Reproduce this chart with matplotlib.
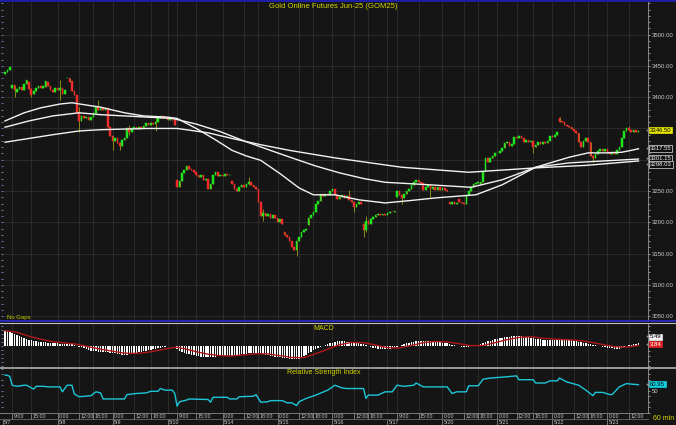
import matplotlib
matplotlib.use("Agg")
import matplotlib.pyplot as plt
from matplotlib.lines import Line2D
from matplotlib.ticker import MultipleLocator, NullFormatter

# ---------------- data ----------------
title = "Gold Online Futures Jun-25 (GOM25)"

opens = [
    3437, 3440, 3444, 3415, 3419, 3408, 3413, 3416, 3411, 3421,
    3425, 3413, 3405, 3410, 3415, 3418, 3414, 3417, 3425, 3418,
    3412, 3409, 3414, 3412, 3414, 3405, 3430, 3431, 3426, 3410,
    3404, 3374, 3362, 3370, 3366, 3369, 3364, 3368, 3375, 3384,
    3380, 3383, 3379, 3383, 3353, 3338, 3330, 3334, 3327, 3322,
    3332, 3335, 3350, 3345, 3350, 3352, 3349, 3353, 3350, 3354,
    3358, 3356, 3359, 3357, 3360, 3367, 3370, 3366, 3368, 3364,
    3367, 3363, 3268, 3257, 3266, 3279, 3284, 3290, 3286, 3283,
    3280, 3276, 3273, 3276, 3268, 3270, 3254, 3262, 3276, 3280,
    3274, 3276, 3274, 3277, 3275, 3266, 3261, 3254, 3250, 3257,
    3259, 3256, 3261, 3265, 3260, 3257, 3254, 3232, 3210, 3215,
    3210, 3213, 3207, 3212, 3207, 3200, 3206, 3184, 3179, 3176,
    3171, 3160, 3156, 3170, 3176, 3185, 3188, 3196, 3207, 3212,
    3216, 3230, 3234, 3245, 3242, 3246, 3243, 3250, 3254, 3243,
    3238, 3241, 3244, 3239, 3242, 3236, 3232, 3225, 3230, 3233,
    3198, 3187, 3202, 3198, 3205, 3209, 3211, 3213, 3211, 3214,
    3212, 3215, 3217, 3216, 3240, 3250, 3243, 3239, 3245, 3250,
    3253, 3260, 3264, 3267, 3265, 3263, 3252, 3256, 3259, 3254,
    3257, 3252, 3256, 3252, 3255, 3252, 3232, 3229, 3232, 3229,
    3237, 3233, 3231, 3229, 3243, 3250, 3256, 3261, 3263, 3262,
    3265, 3282, 3302, 3297, 3303, 3306, 3310, 3311, 3314, 3319,
    3326, 3328, 3322, 3325, 3337, 3334, 3338, 3335, 3329, 3331,
    3328, 3330, 3320, 3323, 3328, 3325, 3329, 3326, 3330, 3338,
    3336, 3340, 3366, 3362, 3361, 3356, 3354, 3352, 3349, 3346,
    3343, 3329, 3321, 3330, 3334, 3328, 3306, 3303, 3309, 3314,
    3317, 3314, 3317, 3312, 3309, 3313, 3309, 3316, 3320, 3334,
    3346, 3351, 3347, 3344, 3347, 3345,
]
closes = [
    3440, 3444, 3448, 3419, 3412, 3413, 3416, 3411, 3421, 3427,
    3413, 3404, 3410, 3415, 3418, 3414, 3418, 3426, 3418, 3412,
    3409, 3414, 3412, 3414, 3405, 3412, 3431, 3424, 3410, 3404,
    3374, 3362, 3370, 3366, 3369, 3364, 3368, 3375, 3384, 3380,
    3383, 3379, 3383, 3353, 3338, 3330, 3334, 3327, 3322, 3332,
    3335, 3350, 3345, 3350, 3352, 3349, 3353, 3350, 3354, 3358,
    3356, 3359, 3357, 3360, 3367, 3370, 3366, 3368, 3364, 3367,
    3363, 3355, 3257, 3266, 3279, 3284, 3290, 3286, 3283, 3280,
    3276, 3273, 3276, 3268, 3270, 3254, 3262, 3276, 3280, 3274,
    3276, 3274, 3277, 3275, 3276, 3261, 3254, 3250, 3257, 3259,
    3256, 3261, 3265, 3260, 3257, 3254, 3232, 3210, 3215, 3210,
    3213, 3207, 3212, 3207, 3200, 3206, 3197, 3179, 3176, 3171,
    3160, 3156, 3170, 3176, 3185, 3188, 3190, 3207, 3212, 3216,
    3230, 3234, 3245, 3242, 3246, 3243, 3250, 3254, 3243, 3238,
    3241, 3244, 3239, 3242, 3236, 3232, 3225, 3230, 3233, 3230,
    3187, 3202, 3198, 3205, 3209, 3211, 3213, 3211, 3214, 3212,
    3215, 3217, 3216, 3218, 3250, 3243, 3239, 3245, 3250, 3253,
    3260, 3264, 3267, 3265, 3263, 3252, 3256, 3259, 3254, 3257,
    3252, 3256, 3252, 3255, 3252, 3250, 3229, 3232, 3229, 3231,
    3233, 3231, 3229, 3243, 3250, 3256, 3261, 3263, 3264, 3265,
    3280, 3302, 3297, 3303, 3306, 3310, 3311, 3314, 3319, 3326,
    3328, 3322, 3325, 3337, 3334, 3338, 3335, 3329, 3331, 3328,
    3330, 3320, 3323, 3328, 3325, 3329, 3326, 3330, 3338, 3336,
    3340, 3344, 3361, 3361, 3356, 3354, 3352, 3349, 3346, 3343,
    3329, 3321, 3330, 3334, 3328, 3306, 3303, 3309, 3314, 3317,
    3314, 3317, 3312, 3309, 3313, 3309, 3316, 3320, 3334, 3346,
    3351, 3347, 3344, 3347, 3345, 3346.5,
]
# visible wicks: bar -> (high, low)
wicks = {4: (3420, 3400), 11: (3414, 3400), 23: (3427, 3395), 31: (3385, 3345),
         39: (3396, 3379), 45: (3339, 3315), 48: (3328, 3315), 52: (3355, 3339),
         63: (3366, 3346), 102: (3272, 3260), 108: (3222, 3202), 122: (3171, 3146),
         144: (3251, 3235), 146: (3233, 3216), 150: (3199, 3176), 151: (3210, 3185),
         166: (3244, 3230), 178: (3262, 3240), 221: (3331, 3310), 232: (3368, 3360),
         246: (3307, 3296), 261: (3354, 3346)}

ma_fast_i = [0, 8, 15, 23, 28, 33, 40, 50, 58, 68, 72, 80, 88, 95, 101, 107, 115,
             123, 129, 138, 148, 159, 170, 180, 197, 208, 222, 236, 244, 252, 258, 262, 265]
ma_fast_v = [3362, 3375, 3383, 3389, 3391, 3388, 3384, 3375, 3370, 3368, 3366, 3350,
             3332, 3315, 3306, 3299, 3278, 3255, 3244, 3244, 3236, 3231, 3235, 3239,
             3244, 3260, 3288, 3304, 3311, 3311, 3312, 3315, 3317.55]
ma_mid_i = [0, 10, 20, 31, 40, 50, 60, 70, 80, 90, 100, 111, 120, 130, 140, 150, 159,
            173, 195, 208, 222, 236, 250, 265]
ma_mid_v = [3352, 3362, 3370, 3375, 3372, 3370, 3368, 3366, 3357, 3345, 3330, 3315,
            3303, 3290, 3279, 3270, 3264, 3261, 3256, 3268, 3288, 3295, 3298, 3301.15]
ma_slow_i = [0, 10, 20, 31, 40, 50, 60, 72, 85, 95, 107, 119, 138, 166, 194, 222, 243, 265]
ma_slow_v = [3328, 3334, 3340, 3346, 3348, 3349, 3350, 3350, 3343, 3334, 3324, 3315,
             3303, 3288, 3280, 3287, 3291, 3298.03]

macd = [
    30, 29, 28, 26, 24, 21, 19, 17, 15, 14,
    12, 11, 10, 9, 8, 8, 7, 7, 6, 5,
    5, 5, 5, 4, 4, 4, 4, 3, 3, 2,
    0, -2, -3, -5, -7, -8, -10, -10, -11, -12,
    -12, -12, -13, -13, -14, -14, -15, -16, -17, -18,
    -18, -18, -17, -16, -15, -14, -13, -12, -11, -10,
    -9, -8, -7, -6, -5, -4, -3, -2, -1, 0,
    0, 0, -6, -10, -12, -14, -16, -17, -18, -19,
    -21, -21, -22, -22, -22, -22, -22, -22, -22, -21,
    -21, -21, -21, -20, -20, -20, -19, -19, -18, -17,
    -16, -16, -15, -15, -15, -15, -15, -15, -17, -18,
    -19, -20, -21, -22, -22, -23, -24, -25, -25, -26,
    -26, -27, -27, -26, -24, -21, -18, -15, -12, -9,
    -7, -5, -3, -1, 1, 3, 5, 6, 8, 9,
    9, 9, 9, 8, 8, 8, 7, 7, 6, 4,
    3, 1, -1, -3, -4, -5, -6, -7, -7, -7,
    -7, -6, -5, -4, -2, 0, 2, 3, 5, 6,
    7, 8, 9, 10, 10, 10, 10, 9, 9, 8,
    8, 7, 7, 6, 6, 5, 4, 2, 1, 0,
    -1, -2, -3, -3, -2, -1, 0, 1, 2, 4,
    6, 8, 9, 10, 12, 13, 14, 15, 16, 17,
    17, 18, 19, 19, 20, 20, 19, 18, 17, 17,
    16, 15, 14, 13, 13, 12, 12, 12, 12, 12,
    12, 12, 13, 12, 12, 11, 11, 11, 10, 9,
    8, 7, 6, 5, 4, 3, 2, 1, 0, -1,
    -2, -3, -4, -5, -5, -6, -6, -6, -5, -3,
    -1, 1, 2, 3, 4, 5.49,
]
sig_i = [0, 5, 10, 15, 20, 25, 30, 35, 40, 45, 50, 55, 60, 65, 70, 72, 75, 80, 85,
         90, 95, 100, 105, 110, 115, 120, 125, 130, 135, 140, 145, 150, 155, 160,
         165, 170, 175, 180, 185, 190, 195, 200, 205, 210, 215, 220, 225, 230, 235,
         240, 245, 250, 255, 260, 265]
sig_v = [30, 27, 19, 13, 8, 5.5, 3, -2, -7, -11, -15, -15.5, -13, -8.5, -4, -3, -6,
         -12, -17, -20, -20.5, -18.5, -16, -16.5, -20, -23.5, -24, -16, -7, 2, 6.5,
         6, 1.5, -4, -4.5, 0.5, 6, 8.5, 7.5, 4, 0, 0.5, 6, 12, 16.5, 18, 15, 13, 12,
         10.5, 7, 2.5, -2, -3, 0.5]

rsi_i = [0, 1, 2, 3, 5, 8, 9, 12, 13, 16, 18, 23, 24, 26, 28, 29, 31, 36, 38, 40,
         41, 50, 51, 55, 59, 61, 64, 65, 67, 70, 71, 72, 73, 76, 77, 85, 86, 87, 93, 94,
         97, 98, 104, 105, 107, 110, 111, 116, 118, 120, 122, 123, 126, 130, 135, 138,
         141, 143, 150, 151, 152, 156, 159, 162, 164, 167, 171, 172, 175, 185, 187, 189,
         193, 194, 198, 200, 203, 209, 214, 215, 221, 222, 226, 228, 231, 232, 235, 240,
         243, 246, 247, 250, 253, 254, 257, 260, 262, 265]
rsi_v = [78.5, 78, 76, 60, 58, 60, 60, 53, 58, 58, 57, 57, 48, 60, 60, 44, 39, 41, 48, 46,
         35, 35, 43, 45, 46, 49, 49, 54, 51, 51, 45, 22, 30, 33, 35, 34, 29, 38, 38, 35,
         35, 39, 40, 43, 29, 30, 32, 32, 28, 28, 23, 30, 36, 42, 51, 60, 55, 54, 54, 36,
         42, 42, 48, 48, 60, 58, 60, 64, 57, 57, 45, 48, 48, 59, 59, 71, 73, 75, 77, 70,
         70, 64, 64, 68, 68, 73, 66, 60, 51, 41, 47, 47, 43, 43, 57, 63, 62, 60.95]

time_ticks = [3, 11, 22, 31, 37, 45, 54, 61, 72, 80, 91, 100, 106, 114, 123, 129, 137,
              146, 152, 164, 173, 183, 192, 198, 206, 214, 221, 229, 238, 244, 252, 261]
time_labels = ["9:00", "15:00", "0:00", "12:00", "18:00", "0:00", "12:00", "18:00",
               "9:00", "15:00", "0:00", "12:00", "18:00", "0:00", "12:00", "18:00",
               "0:00", "12:00", "18:00", "9:00", "15:00", "0:00", "12:00", "18:00",
               "0:00", "12:00", "18:00", "0:00", "12:00", "18:00", "0:00", "12:00"]
date_ticks = [-1, 22, 45, 68, 91, 114, 137, 160, 183, 206, 229, 252]
date_labels = ["5/7", "5/8", "5/9", "5/10", "5/14", "5/15", "5/16", "5/17",
               "5/20", "5/21", "5/22", "5/23"]
price_ticks = [3050, 3100, 3150, 3200, 3250, 3300, 3350, 3400, 3450, 3500]

# ---------------- style ----------------
BG = "#151515"
GRID = "#2b2b2b"
UP = "#1fe61f"
DN = "#f22a2a"
WICK = "#8e8a14"
YEL = "#d6d600"
TXT = "#c8c8c8"
W, H = 676, 425
plt.rcParams['font.family'] = ['Liberation Sans', 'DejaVu Sans']

fig = plt.figure(figsize=(W / 100, H / 100), dpi=100)
fig.patch.set_facecolor(BG)
XL = (-0.84, 269.0)


def panel(top, bot):
    a = fig.add_axes([3 / W, 1 - bot / H, 645 / W, (bot - top) / H])
    a.set_facecolor(BG)
    for s in a.spines.values():
        s.set_visible(False)
    a.spines['right'].set_visible(True)
    a.spines['right'].set_color("#9a9a9a")
    a.spines['right'].set_linewidth(0.6)
    a.set_xlim(*XL)
    a.set_xticks([])
    for t in time_ticks + date_ticks[1:]:
        a.axvline(t, color=GRID, lw=0.7, zorder=0)
    a.yaxis.tick_right()
    a.tick_params(axis='y', which='both', colors=TXT, labelsize=4.3, length=1.5,
                  width=0.5, pad=1.2, direction='out')
    # light tick marks along the left edge
    sec = a.secondary_yaxis('left')
    sec.yaxis.set_major_formatter(NullFormatter())
    sec.tick_params(axis='y', colors="#a0a0e6", length=1.6, width=0.5)
    sec.spines['left'].set_visible(False)
    return a, sec


def hline(py, color, lw, x0=0, x1=W):
    fig.add_artist(Line2D([x0 / W, x1 / W], [1 - py / H, 1 - py / H],
                          color=color, lw=lw, transform=fig.transFigure))


def tag(py, text, fc, tc, ec=None):
    fig.text(650 / W, 1 - py / H, text, fontsize=4.3, color=tc, ha='left', va='center',
             bbox=dict(boxstyle='square,pad=0.12', fc=fc, ec=ec or fc, lw=0.5))
    fig.text(647.5 / W, 1 - py / H, "+", fontsize=3.5, color="#d0d0d0",
             ha='center', va='center')


# ---------------- main price panel ----------------
ax, sec = panel(2, 320)
ax.set_ylim(3044, 3552)
sec.yaxis.set_major_locator(MultipleLocator(10))
for p in price_ticks:
    ax.axhline(p, color=GRID, lw=0.7, zorder=0)
ax.set_yticks(price_ticks)
ax.set_yticklabels(["%.2f" % p if p not in (3300, 3350) else "" for p in price_ticks])
ax.yaxis.set_minor_locator(MultipleLocator(10))

n = len(closes)
idx = list(range(n))
cols = [UP if c >= o else DN for o, c in zip(opens, closes)]
his = [max(o, c) for o, c in zip(opens, closes)]
los = [min(o, c) for o, c in zip(opens, closes)]
for i, (h, l) in wicks.items():
    his[i], los[i] = h, l
ax.vlines(idx, los, his, color=WICK, lw=0.7, zorder=2)
ax.bar(idx, [c - o for o, c in zip(opens, closes)], bottom=opens, width=0.68,
       color=cols, edgecolor=cols, lw=0.35, zorder=3)

for xi, yv in ((ma_fast_i, ma_fast_v), (ma_mid_i, ma_mid_v), (ma_slow_i, ma_slow_v)):
    ax.plot(xi, yv, color="#f2f2f2", lw=1.0, zorder=4, solid_joinstyle='round')

fig.text(333 / W, 1 - 7 / H, title, color=YEL, fontsize=5.5, ha='center', va='center')
fig.text(7 / W, 1 - 317 / H, "No Gaps", color="#c6c600", fontsize=4.3, va='center')

tag(130, "%.2f" % closes[-1], "#e6e600", "#000000")
tag(148.5, "%.2f" % ma_fast_v[-1], "#101010", "#f0f0f0", "#e0e0e0")
tag(158.5, "%.2f" % ma_mid_v[-1], "#101010", "#f0f0f0", "#e0e0e0")
tag(164.5, "%.2f" % ma_slow_v[-1], "#101010", "#f0f0f0", "#e0e0e0")

# ---------------- MACD panel ----------------
am, sm = panel(323.5, 367)
am.set_ylim(-42.6, 44.4)
sm.yaxis.set_major_locator(MultipleLocator(8))
am.set_yticks([])
am.yaxis.set_minor_locator(MultipleLocator(10))
am.bar(idx, macd, width=0.6, color="#ffffff", zorder=2)
am.plot(sig_i, sig_v, color="#b01818", lw=1.0, zorder=3)
fig.text(324 / W, 1 - 328 / H, "MACD", color=YEL, fontsize=5, ha='center', va='center')
tag(337, "%.2f" % macd[-1], "#f0f0f0", "#000000")
tag(344, "3.84", "#e02020", "#ffffff")

# ---------------- RSI panel ----------------
ar, sr = panel(368.5, 413)
ar.set_ylim(9.5, 90.4)
sr.yaxis.set_major_locator(MultipleLocator(10))
ar.set_yticks([50])
ar.set_yticklabels(["50"])
ar.yaxis.set_minor_locator(MultipleLocator(10))
ar.plot(rsi_i, rsi_v, color="#1cc6d8", lw=1.0, zorder=3)
fig.text(324 / W, 1 - 373 / H, "Relative Strength Index", color=YEL, fontsize=5,
         ha='center', va='center')
tag(384, "%.2f" % rsi_v[-1], "#10d0e0", "#000000")

# ---------------- time axis ----------------
at = fig.add_axes([3 / W, 0, 645 / W, 12 / H])
at.set_xlim(*XL)
at.set_ylim(425, 413)
at.axis('off')
for t, lab in zip(time_ticks, time_labels):
    at.plot([t, t], [413.5, 419], color="#8a8a8a", lw=0.6)
    at.text(t + 0.6, 416.3, lab, fontsize=3.8, color=TXT, ha='left', va='center')
for t, lab in zip(date_ticks, date_labels):
    at.plot([t, t], [419.5, 425], color="#8a8a8a", lw=0.6)
    at.text(t + 0.6, 422.4, lab, fontsize=3.8, color=TXT, ha='left', va='center')
fig.text(653 / W, 1 - 418.5 / H, "60 min", color=YEL, fontsize=5, va='center')

# ---------------- separators ----------------
hline(0.8, "#2020b4", 1.3)
hline(321, "#2a2ad0", 1.2)
hline(323.3, "#bdbdbd", 0.8)
hline(367.7, "#bdbdbd", 1.1)
hline(413.3, "#8a8a8a", 0.6, 0, 648)
hline(419.3, "#6a6a6a", 0.6, 0, 648)

fig.savefig("out.png", dpi=100, facecolor=BG)
